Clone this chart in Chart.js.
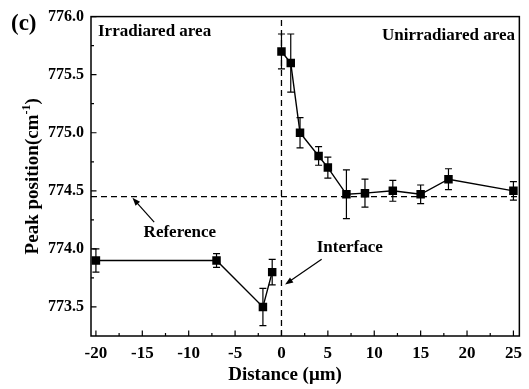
<!DOCTYPE html>
<html>
<head>
<meta charset="utf-8">
<script src="https://cdn.jsdelivr.net/npm/chart.js@4.4.1/dist/chart.umd.min.js"></script>
<style>
html,body{margin:0;padding:0;background:#fff;}
#wrap{width:529px;height:389px;position:relative;}
</style>
</head>
<body>
<div id="wrap"><canvas id="c" width="529" height="389"></canvas></div>
<script>
// ---- data ----
const xLeft = [-20, -7, -2, -1];
const yLeft = [773.9, 773.9, 773.5, 773.8];
const eLeft = [0.10, 0.06, 0.16, 0.11];

const xRight = [0, 1, 2, 4, 5, 7, 9, 12, 15, 18, 25];
const yRight = [775.70, 775.60, 775.00, 774.80, 774.70, 774.47, 774.48, 774.50, 774.47, 774.60, 774.50];
const eRight = [0.15, 0.25, 0.13, 0.08, 0.09, 0.21, 0.12, 0.09, 0.08, 0.09, 0.08];

const referenceValue = 774.45;
const interfacePos = 0;

const xTicks = [-20, -15, -10, -5, 0, 5, 10, 15, 20, 25];
const yTicks = [773.5, 774.0, 774.5, 775.0, 775.5, 776.0];
const xMinor = [-17.5, -12.5, -7.5, -2.5, 2.5, 7.5, 12.5, 17.5, 22.5];
const yMinor = [773.75, 774.25, 774.75, 775.25, 775.75];

const xMin = -20.53, xMax = 25.64;
const yMin = 773.25, yMax = 776.0;

const FONT = '"Liberation Serif", "Times New Roman", serif';

const toPts = (xs, ys) => xs.map((x, i) => ({x: x, y: ys[i]}));

// error bars drawn through scales
const errorBars = {
  id: 'errorBars',
  afterDatasetsDraw(chart) {
    const ctx = chart.ctx, xs = chart.scales.x, ys = chart.scales.y;
    const sets = [[xLeft, yLeft, eLeft], [xRight, yRight, eRight]];
    ctx.save();
    ctx.strokeStyle = '#000';
    ctx.lineWidth = 1.2;
    sets.forEach(([X, Y, E]) => {
      X.forEach((xv, i) => {
        const px = xs.getPixelForValue(xv);
        const top = ys.getPixelForValue(Y[i] + E[i]);
        const bot = ys.getPixelForValue(Y[i] - E[i]);
        ctx.beginPath();
        ctx.moveTo(px, top); ctx.lineTo(px, bot);
        ctx.moveTo(px - 3.5, top); ctx.lineTo(px + 3.5, top);
        ctx.moveTo(px - 3.5, bot); ctx.lineTo(px + 3.5, bot);
        ctx.stroke();
      });
    });
    ctx.restore();
  }
};

function arrow(ctx, x1, y1, x2, y2) {
  const ang = Math.atan2(y2 - y1, x2 - x1);
  const L = 8, W = 3;
  ctx.beginPath();
  ctx.moveTo(x1, y1);
  ctx.lineTo(x2 - Math.cos(ang) * L * 0.8, y2 - Math.sin(ang) * L * 0.8);
  ctx.stroke();
  ctx.beginPath();
  ctx.moveTo(x2, y2);
  ctx.lineTo(x2 - Math.cos(ang) * L - Math.sin(ang) * W, y2 - Math.sin(ang) * L + Math.cos(ang) * W);
  ctx.lineTo(x2 - Math.cos(ang) * L + Math.sin(ang) * W, y2 - Math.sin(ang) * L - Math.cos(ang) * W);
  ctx.closePath();
  ctx.fill();
}

const decor = {
  id: 'decor',
  afterDraw(chart) {
    const ctx = chart.ctx, a = chart.chartArea, xs = chart.scales.x, ys = chart.scales.y;
    ctx.save();
    ctx.strokeStyle = '#000';
    ctx.fillStyle = '#000';
    // frame
    ctx.lineWidth = 1.5;
    ctx.strokeRect(a.left, a.top, a.right - a.left, a.bottom - a.top);
    // ticks (inward)
    ctx.lineWidth = 1.2;
    ctx.beginPath();
    xTicks.forEach(v => { const p = xs.getPixelForValue(v); ctx.moveTo(p, a.bottom); ctx.lineTo(p, a.bottom - 5.5); });
    xMinor.forEach(v => { const p = xs.getPixelForValue(v); ctx.moveTo(p, a.bottom); ctx.lineTo(p, a.bottom - 3); });
    yTicks.forEach(v => { const p = ys.getPixelForValue(v); ctx.moveTo(a.left, p); ctx.lineTo(a.left + 5.5, p); });
    yMinor.forEach(v => { const p = ys.getPixelForValue(v); ctx.moveTo(a.left, p); ctx.lineTo(a.left + 3, p); });
    ctx.stroke();

    // panel label
    ctx.font = 'bold 23px ' + FONT;
    ctx.textAlign = 'left';
    ctx.textBaseline = 'alphabetic';
    ctx.fillText('(c)', 11, 30);

    // area labels
    ctx.font = 'bold 17px ' + FONT;
    ctx.fillText('Irradiared area', 98, 36);
    ctx.textAlign = 'right';
    ctx.fillText('Unirradiared area', 515, 40);

    // annotations in data coordinates
    ctx.textAlign = 'center';
    ctx.textBaseline = 'middle';
    ctx.fillText('Reference', xs.getPixelForValue(-10.96), ys.getPixelForValue(774.14));
    ctx.fillText('Interface', xs.getPixelForValue(7.36), ys.getPixelForValue(774.01));
    ctx.lineWidth = 1.2;
    arrow(ctx, xs.getPixelForValue(-13.72), ys.getPixelForValue(774.23), xs.getPixelForValue(-16.06), ys.getPixelForValue(774.44));
    arrow(ctx, xs.getPixelForValue(4.33), ys.getPixelForValue(773.91), xs.getPixelForValue(0.39), ys.getPixelForValue(773.694));

    // x title
    ctx.font = 'bold 19px ' + FONT;
    ctx.textAlign = 'center';
    ctx.textBaseline = 'alphabetic';
    ctx.fillText('Distance (\u03bcm)', 285, 380);

    // y title with superscript
    const main = 'Peak position(cm', sup = '-1', close = ')';
    ctx.font = 'bold 19px ' + FONT;
    const w1 = ctx.measureText(main).width, w3 = ctx.measureText(close).width;
    ctx.font = 'bold 12px ' + FONT;
    const w2 = ctx.measureText(sup).width;
    const total = w1 + w2 + w3;
    ctx.translate(38, (a.top + a.bottom) / 2);
    ctx.rotate(-Math.PI / 2);
    ctx.textAlign = 'left';
    let x0 = -total / 2;
    ctx.font = 'bold 19px ' + FONT;
    ctx.fillText(main, x0, 0);
    ctx.font = 'bold 12px ' + FONT;
    ctx.fillText(sup, x0 + w1, -8);
    ctx.font = 'bold 19px ' + FONT;
    ctx.fillText(close, x0 + w1 + w2, 0);
    ctx.restore();
  }
};

new Chart(document.getElementById('c'), {
  type: 'scatter',
  data: {
    datasets: [
      {
        label: 'Reference',
        data: [{x: xMin, y: referenceValue}, {x: xMax, y: referenceValue}],
        showLine: true, borderColor: '#000', borderWidth: 1.3, borderDash: [6, 4],
        pointRadius: 0
      },
      {
        label: 'Interface',
        data: [{x: interfacePos, y: yMin}, {x: interfacePos, y: yMax}],
        showLine: true, borderColor: '#000', borderWidth: 1.3, borderDash: [6, 4],
        pointRadius: 0
      },
      {
        label: 'Irradiated',
        data: toPts(xLeft, yLeft),
        showLine: true, borderColor: '#000', borderWidth: 1.4,
        pointStyle: 'rect', pointRadius: 6, pointBackgroundColor: '#000', pointBorderColor: '#000', pointBorderWidth: 0
      },
      {
        label: 'Unirradiated',
        data: toPts(xRight, yRight),
        showLine: true, borderColor: '#000', borderWidth: 1.4,
        pointStyle: 'rect', pointRadius: 6, pointBackgroundColor: '#000', pointBorderColor: '#000', pointBorderWidth: 0
      }
    ]
  },
  options: {
    responsive: false,
    animation: false,
    layout: {padding: {left: 0, right: 4, top: 16, bottom: 0}},
    plugins: {legend: {display: false}, tooltip: {enabled: false}},
    scales: {
      x: {
        type: 'linear', min: xMin, max: xMax,
        grid: {display: false, drawTicks: false},
        border: {display: false},
        afterBuildTicks: s => { s.ticks = xTicks.map(v => ({value: v})); },
        afterFit: s => { s.height = 53; },
        ticks: {
          color: '#000', padding: 7, maxRotation: 0, autoSkip: false,
          font: {family: FONT, size: 17, weight: 'bold'},
          callback: v => String(v)
        }
      },
      y: {
        type: 'linear', min: yMin, max: yMax,
        grid: {display: false, drawTicks: false},
        border: {display: false},
        afterBuildTicks: s => { s.ticks = yTicks.map(v => ({value: v})); },
        afterFit: s => { s.width = 91; },
        ticks: {
          color: '#000', padding: 7, autoSkip: false,
          font: {family: FONT, size: 16, weight: 'bold'},
          callback: v => Number(v).toFixed(1)
        }
      }
    }
  },
  plugins: [errorBars, decor]
});
</script>
</body>
</html>
